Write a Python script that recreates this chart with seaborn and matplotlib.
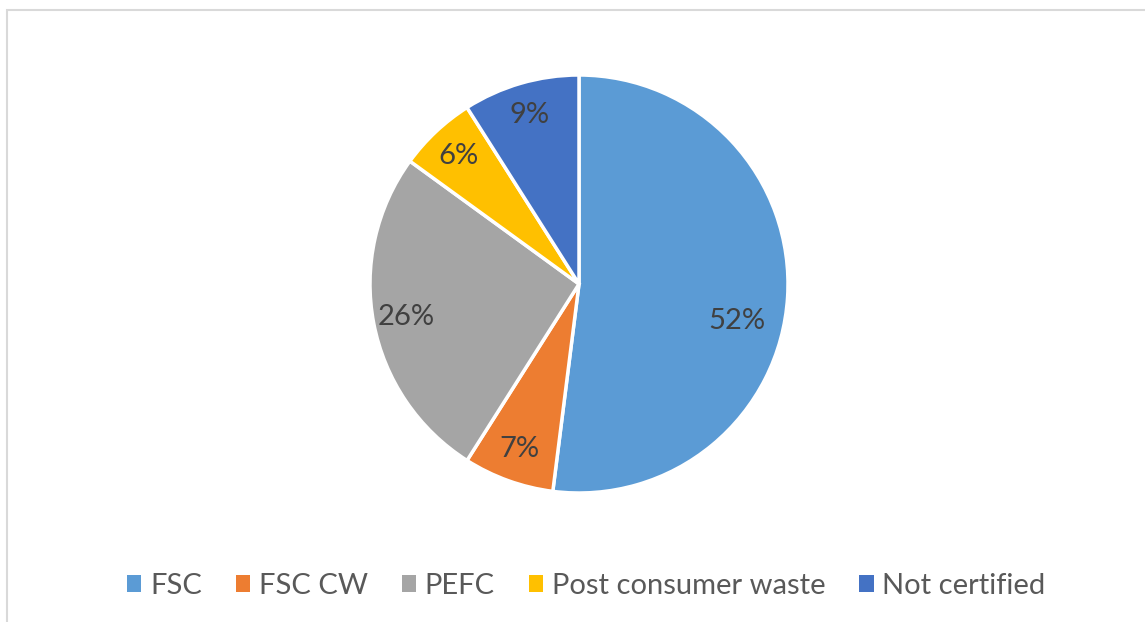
import seaborn as sns
import matplotlib.pyplot as plt
from matplotlib.patches import Rectangle, Patch

# Datos
categorias = ['FSC', 'FSC CW', 'PEFC', 'Post consumer waste', 'Not certified']
valores = [52, 7, 26, 6, 9]
colores = ['#5B9BD5', '#ED7D31', '#A5A5A5', '#FFC000', '#4472C4']

sns.set_theme(style='white')
plt.rcParams['font.family'] = ['Lato', 'DejaVu Sans']

fig = plt.figure(figsize=(11.45, 6.22), dpi=100)
ax = fig.add_axes([579 / 1145 - 209 / 1145, 1 - (284 + 209) / 622, 418 / 1145, 418 / 622])

paleta = sns.color_palette(colores)
wedges, textos, autotextos = ax.pie(
    valores, colors=paleta, startangle=90, counterclock=False,
    autopct='%1.0f%%', pctdistance=0.84,
    wedgeprops=dict(edgecolor='white', linewidth=2.5),
    textprops=dict(color='#404040', fontsize=21))
# la etiqueta grande queda más al centro
x, y = autotextos[0].get_position()
autotextos[0].set_position((x * 0.9, y * 0.9 - 0.13))
ax.set_xlim(-1, 1)
ax.set_ylim(-1, 1)
ax.set_aspect('equal')

# Leyenda
handles = [Patch(facecolor=c, edgecolor='none') for c in colores]
fig.legend(handles, categorias, loc='center', bbox_to_anchor=(0.512, 1 - 586 / 622),
           ncol=5, frameon=False, fontsize=21, labelcolor='#595959',
           handlelength=0.5, handleheight=0.5, handletextpad=0.3, columnspacing=1.15)

# Borde del gráfico
fig.patches.append(Rectangle((7 / 1145, -0.01), 1.02, 1 - 10 / 622 + 0.01,
                             transform=fig.transFigure, fill=False,
                             edgecolor='#D9D9D9', linewidth=1.5))

fig.savefig('out.png', dpi=100)
